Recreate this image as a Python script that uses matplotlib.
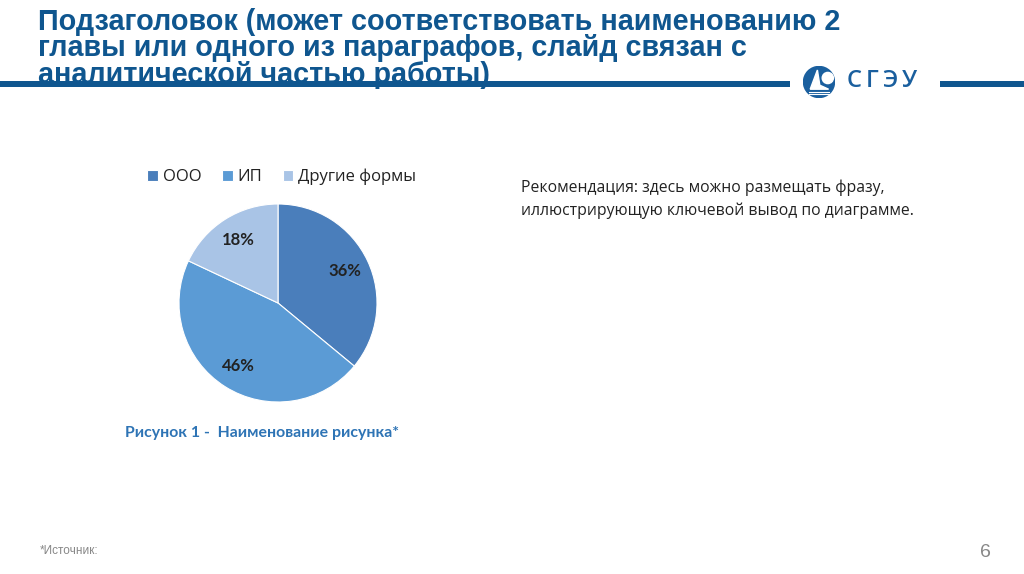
import matplotlib.pyplot as plt
from matplotlib.patches import Circle, Rectangle, Polygon

plt.rcParams['font.family'] = ['Open Sans', 'DejaVu Sans']

labels = ["ООО", "ИП", "Другие формы"]
shares = [36, 46, 18]
colors = ["#4a7ebb", "#5b9bd5", "#a9c4e6"]

title_lines = ["Подзаголовок (может соответствовать наименованию 2",
               "главы или одного из параграфов, слайд связан с",
               "аналитической частью работы)"]
caption = "Рисунок 1 -  Наименование рисунка*"
note = "Рекомендация: здесь можно размещать фразу,\nиллюстрирующую ключевой вывод по диаграмме."

W, H = 1024, 574
fig = plt.figure(figsize=(W / 100, H / 100), dpi=100)
fig.patch.set_facecolor("white")

def px(x, y):
    return x / W, 1 - y / H

blue = "#0f568f"
title_font = ['Liberation Sans', 'DejaVu Sans']
label_font = ['Lato', 'DejaVu Sans']
for i, line in enumerate(title_lines):
    fig.text(*px(38, 30 + i * 26.5), line, family=title_font, fontweight="bold",
             fontsize=20.7, color=blue, va="baseline", ha="left")

# header rule and logo
fig.add_artist(Rectangle(px(0, 87), 790 / W, 6 / H, transform=fig.transFigure,
                         color=blue, lw=0))
fig.add_artist(Rectangle(px(940, 87), 84 / W, 6 / H, transform=fig.transFigure,
                         color=blue, lw=0))
logo = fig.add_axes([803 / W, 1 - 98 / H, 32 / W, 32 / H])
logo.set_xlim(-1, 1)
logo.set_ylim(-1, 1)
logo.set_aspect("equal")
logo.axis("off")
logo.add_patch(Circle((0, 0), 0.97, color="#1a5f9e"))
logo.add_patch(Polygon([(-0.55, -0.45), (-0.1, 0.75), (0.05, -0.2), (0.6, -0.45)], color="white"))
logo.add_patch(Circle((0.55, 0.25), 0.35, color="white"))
for yy in [-0.6, -0.75]:
    logo.plot([-0.6, 0.6], [yy, yy], color="white", lw=0.8)
for x0, letter in zip([847, 866, 882, 902], "СГЭУ"):
    fig.text(*px(x0, 87), letter, fontsize=17, fontweight="semibold", color="#1a5f9e",
             family=['Open Sans', 'DejaVu Sans'], va="baseline", ha="left")

# pie
cx, cy, r = 278, 303, 99
ax = fig.add_axes([(cx - r) / W, (H - cy - r) / H, 2 * r / W, 2 * r / H])
wedges, texts, autotexts = ax.pie(shares, colors=colors, startangle=90, counterclock=False,
                                  autopct="%d%%", pctdistance=0.75,
                                  wedgeprops=dict(edgecolor="white", linewidth=0.8),
                                  textprops=dict(fontsize=12, fontweight="bold", color="#222222",
                                                 family=label_font))
ax.set_xlim(-1, 1)
ax.set_ylim(-1, 1)
ax.set_aspect("equal")

fig.legend(wedges, labels, loc="center", bbox_to_anchor=px(282, 177), ncol=3, frameon=False,
           fontsize=12, handlelength=0.65, handleheight=0.65, handletextpad=0.3, columnspacing=1.2,
           labelcolor="#222222")

fig.text(*px(125, 437), caption, fontsize=11.4, fontweight="bold", color="#2e74b5",
         family=label_font, va="baseline", ha="left")
fig.text(*px(521, 179), note, fontsize=11.35, color="#222222", va="top", ha="left",
         linespacing=1.55)

fig.text(*px(40, 554), "*Источник:", fontsize=8.5, color="#888888", family=title_font,
         va="baseline", ha="left")
fig.text(*px(980, 557), "6", fontsize=14, color="#888888", family=title_font,
         va="baseline", ha="left")

fig.savefig("out.png", dpi=100)
